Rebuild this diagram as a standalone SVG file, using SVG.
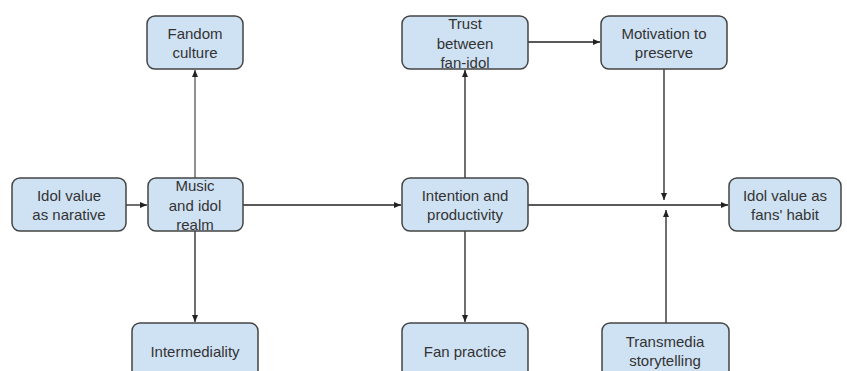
<svg xmlns="http://www.w3.org/2000/svg" width="847" height="371" viewBox="0 0 847 371">
<style>
.box{fill:#cfe2f3;stroke:#444;stroke-width:1.5}
.t{font-family:"Liberation Sans",Arial,sans-serif;font-size:15px;fill:#333;text-anchor:middle}
.c{stroke:#222;stroke-width:1.3;fill:none}
.g{stroke:#555;stroke-width:1.3;fill:none}
</style>
<defs>
<marker id="ah" markerWidth="8" markerHeight="8" refX="7" refY="4" orient="auto" markerUnits="userSpaceOnUse">
<path d="M0,1 L7,4 L0,7 Z" fill="#222"/>
</marker>
</defs>
<rect width="847" height="371" fill="#fff"/>
<g id="connectors">
<line class="c" x1="126" y1="205" x2="147" y2="205" marker-end="url(#ah)"/>
<line class="g" x1="195" y1="178" x2="195" y2="70" marker-end="url(#ah)"/>
<line class="c" x1="195" y1="231" x2="195" y2="322" marker-end="url(#ah)"/>
<line class="c" x1="243" y1="205" x2="401" y2="205" marker-end="url(#ah)"/>
<line class="c" x1="465" y1="178" x2="465" y2="70" marker-end="url(#ah)"/>
<line class="c" x1="465" y1="231" x2="465" y2="322" marker-end="url(#ah)"/>
<line class="c" x1="528" y1="42" x2="600" y2="42" marker-end="url(#ah)"/>
<line class="c" x1="528" y1="205" x2="728" y2="205" marker-end="url(#ah)"/>
<line class="c" x1="664" y1="69" x2="664" y2="200" marker-end="url(#ah)"/>
<line class="c" x1="666" y1="323" x2="666" y2="210" marker-end="url(#ah)"/>
</g>
<g id="fandom"><rect class="box" x="147" y="16" width="96" height="53" rx="8"/><text class="t" x="195" y="39">Fandom</text><text class="t" x="195" y="58">culture</text></g>
<g id="trust"><rect class="box" x="402" y="16" width="126" height="53" rx="8"/><text class="t" x="465" y="29">Trust</text><text class="t" x="465" y="49">between</text><text class="t" x="465" y="68">fan-idol</text></g>
<g id="motivation"><rect class="box" x="601" y="16" width="126" height="53" rx="8"/><text class="t" x="664" y="39">Motivation to</text><text class="t" x="664" y="58">preserve</text></g>
<g id="narrative"><rect class="box" x="12" y="178" width="114" height="53" rx="8"/><text class="t" x="69" y="201">Idol value</text><text class="t" x="69" y="220">as narative</text></g>
<g id="music"><rect class="box" x="148" y="178" width="95" height="53" rx="8"/><text class="t" x="195" y="191">Music</text><text class="t" x="195" y="211">and idol</text><text class="t" x="195" y="230">realm</text></g>
<g id="intention"><rect class="box" x="402" y="178" width="126" height="53" rx="8"/><text class="t" x="465" y="201">Intention and</text><text class="t" x="465" y="220">productivity</text></g>
<g id="habit"><rect class="box" x="729" y="178" width="112" height="53" rx="8"/><text class="t" x="785" y="201">Idol value as</text><text class="t" x="785" y="220">fans' habit</text></g>
<g id="intermediality"><rect class="box" x="132" y="323" width="126" height="60" rx="8"/><text class="t" x="195" y="357">Intermediality</text></g>
<g id="fanpractice"><rect class="box" x="402" y="323" width="126" height="60" rx="8"/><text class="t" x="465" y="357">Fan practice</text></g>
<g id="transmedia"><rect class="box" x="602" y="323" width="127" height="60" rx="8"/><text class="t" x="665" y="347">Transmedia</text><text class="t" x="665" y="366">storytelling</text></g>
</svg>
